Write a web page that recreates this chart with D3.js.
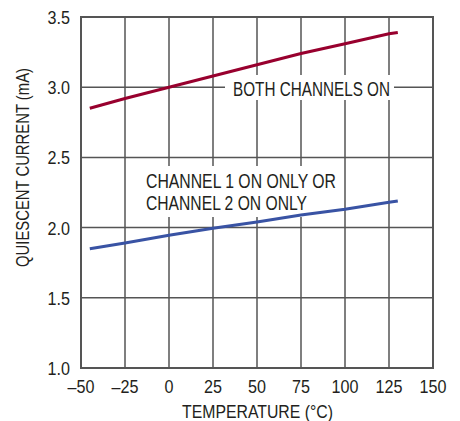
<!DOCTYPE html>
<html><head><meta charset="utf-8">
<script src="https://cdn.jsdelivr.net/npm/d3@7"></script>
<style>
html,body{margin:0;padding:0;background:#fff;}
text{font-family:"Liberation Sans Narrow","Arial Narrow","Liberation Sans",sans-serif;fill:#231f20;}
</style></head>
<body><svg id="c" width="460" height="421"></svg>
<script>
const temps = [-45, -25, 0, 25, 50, 75, 100, 125, 130];
const bothOn = [2.85, 2.92, 3.0, 3.08, 3.16, 3.24, 3.31, 3.38, 3.39];
const oneOn = [1.85, 1.89, 1.945, 1.995, 2.04, 2.09, 2.13, 2.18, 2.19];
const xTicks = [-50, -25, 0, 25, 50, 75, 100, 125, 150];
const yTicks = [1.0, 1.5, 2.0, 2.5, 3.0, 3.5];
const xTickLabels = ["–50", "–25", "0", "25", "50", "75", "100", "125", "150"];
const yTickLabels = ["1.0", "1.5", "2.0", "2.5", "3.0", "3.5"];

const svg = d3.select("#c");
const L = 81, R = 433, T = 17, B = 368;
const x = d3.scaleLinear().domain([-50, 150]).range([L, R]);
const y = d3.scaleLinear().domain([1.0, 3.5]).range([B, T]);
const grid = "#555";
const SX = 0.85;

const g = svg.append("g");
g.selectAll(".vg").data(xTicks).join("line")
  .attr("x1", d => x(d)).attr("x2", d => x(d)).attr("y1", T).attr("y2", B)
  .attr("stroke", grid).attr("stroke-width", 1.5);
g.selectAll(".hg").data(yTicks).join("line")
  .attr("x1", L).attr("x2", R).attr("y1", d => y(d)).attr("y2", d => y(d))
  .attr("stroke", grid).attr("stroke-width", 1.5);
g.append("rect").attr("x", L).attr("y", T).attr("width", R - L).attr("height", B - T)
  .attr("fill", "none").attr("stroke", grid).attr("stroke-width", 2);

// label masks
svg.append("rect").attr("x", 225).attr("y", 75).attr("width", 169).attr("height", 25).attr("fill", "#fff");
svg.append("rect").attr("x", 140).attr("y", 166).attr("width", 198).attr("height", 51).attr("fill", "#fff");

const line = d3.line().x((d, i) => x(temps[i])).y(d => y(d));
svg.append("path").datum(bothOn).attr("d", line).attr("fill", "none")
  .attr("stroke", "#98002e").attr("stroke-width", 3);
svg.append("path").datum(oneOn).attr("d", line).attr("fill", "none")
  .attr("stroke", "#3953a4").attr("stroke-width", 3);

svg.selectAll(".xl").data(xTicks).join("text")
  .attr("transform", d => `translate(${x(d)},393) scale(${SX},1)`).attr("text-anchor", "middle")
  .attr("font-size", 19).text((d, i) => xTickLabels[i]);
svg.selectAll(".yl").data(yTicks).join("text")
  .attr("transform", d => `translate(70,${y(d) + 7}) scale(${SX},1)`).attr("text-anchor", "end")
  .attr("font-size", 19).text((d, i) => yTickLabels[i]);

function fit(sel, w) {
  sel.attr("textLength", w).attr("lengthAdjust", "spacingAndGlyphs");
}
svg.append("text").attr("x", 182).attr("y", 418)
  .attr("font-size", 19).text("TEMPERATURE (°C)").call(fit, 151);
svg.append("text").attr("transform", `translate(29,267) rotate(-90)`)
  .attr("font-size", 19).text("QUIESCENT CURRENT (mA)").call(fit, 199);

svg.append("text").attr("x", 233).attr("y", 95.5).attr("font-size", 19.5).text("BOTH CHANNELS ON").call(fit, 157);
svg.append("text").attr("x", 146).attr("y", 187.5).attr("font-size", 19.5).text("CHANNEL 1 ON ONLY OR").call(fit, 190);
svg.append("text").attr("x", 146).attr("y", 210).attr("font-size", 19.5).text("CHANNEL 2 ON ONLY").call(fit, 161);
</script></body></html>
